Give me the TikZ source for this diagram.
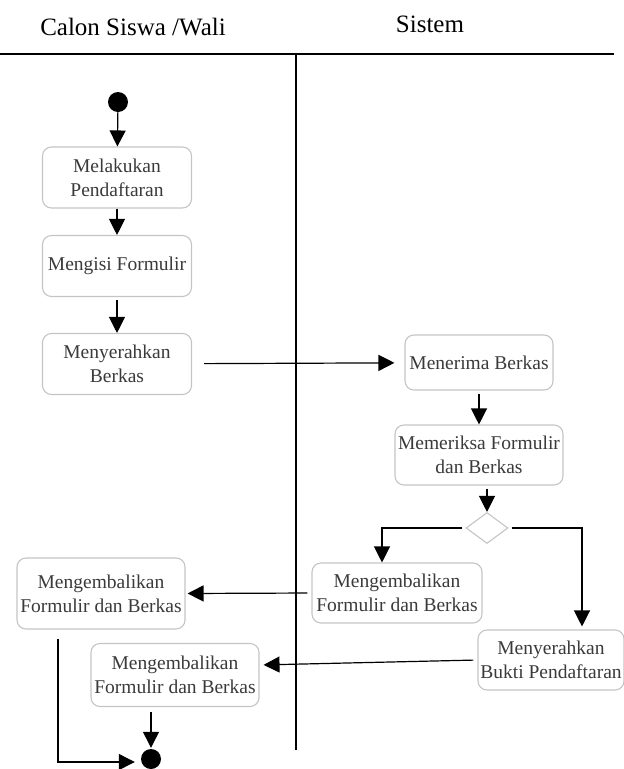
\documentclass[tikz,border=0pt]{standalone}
\usepackage{fontspec}
\setmainfont{Liberation Serif}
\usetikzlibrary{positioning,arrows.meta,shapes.geometric,calc}
\definecolor{ActLine}{HTML}{C4C4C4}
\definecolor{ActText}{HTML}{3A3A3A}

\begin{document}
\begin{tikzpicture}[x=1pt,y=-1pt,
  >={Triangle[length=16pt,width=16pt]},
  lane/.style={font=\fontsize{25}{30}\selectfont,inner sep=0pt},
  act/.style={draw=ActLine,line width=1.1pt,rounded corners=9pt,align=center,
              text=ActText,font=\fontsize{19.5}{24}\selectfont,inner sep=1pt,
              minimum width=149pt,minimum height=61pt},
  dot/.style={circle,fill=black,minimum size=20pt,inner sep=0pt},
  dec/.style={diamond,draw=ActLine,line width=1.1pt,aspect=1.35,
              minimum width=42pt,minimum height=31pt,inner sep=0pt},
  k/.style={->,line width=1.2pt,black},
]
\useasboundingbox (0,0) rectangle (624,769);

% swimlanes
\node[lane] (laneA) at (133,27) {Calon Siswa /Wali};
\node[lane] (laneB) at (430,24) {Sistem};
\draw[line width=1.2pt] (0,54) -- (614,54);
\draw[line width=1.2pt] (296,54) -- (296,750);

% Calon Siswa / Wali
\node[dot] (start) at (118,102) {};
\node[act] (daftar) at (117,177.5) {Melakukan\\Pendaftaran};
\node[act] (isi)    at (117,266)   {Mengisi Formulir};
\node[act] (serah)  at (117,364)   {Menyerahkan\\Berkas};
\node[act,minimum width=168pt,minimum height=71pt] (kembaliC) at (101,593.5)
  {Mengembalikan\\Formulir dan Berkas};
\node[act,minimum width=168pt,minimum height=63pt] (kembaliL) at (175,675)
  {Mengembalikan\\Formulir dan Berkas};
\node[dot] (stop) at (151,759) {};

% Sistem
\node[act,minimum width=148pt,minimum height=55pt] (terima) at (479,362.5) {Menerima Berkas};
\node[act,minimum width=168pt,minimum height=60pt] (periksa) at (479,455)
  {Memeriksa Formulir\\dan Berkas};
\node[dec] (cek) at (487,528) {};
\node[act,minimum width=170pt,minimum height=60pt] (kembaliS) at (397,593)
  {Mengembalikan\\Formulir dan Berkas};
\node[act,minimum width=146pt,minimum height=60pt] (bukti) at (551,660)
  {Menyerahkan\\Bukti Pendaftaran};

% flows
\draw[k] (start) -- (daftar);
\draw[k] (daftar) -- (isi);
\draw[k,shorten <=3pt] (isi) -- (serah);
\draw[k,shorten <=12pt,shorten >=10pt] (serah) -- (terima);
\draw[k,shorten <=3pt] (terima) -- (periksa);
\draw[k,shorten <=3pt] (cek.north |- periksa.south) -- (cek.north);
\draw[k,shorten <=3pt] (cek.west) -| ([xshift=-15pt]kembaliS.north);
\draw[k,shorten <=3pt,shorten >=3pt] (cek.east) -| ([xshift=31pt]bukti.north);
\draw[k,shorten <=4pt,shorten >=2pt] (kembaliS.west) -- (kembaliC.east);
\draw[k,shorten <=4pt,shorten >=4pt] (bukti.west) -- ([yshift=10pt]kembaliL.east);
\draw[k,shorten <=5pt,shorten >=1pt] (stop.north |- kembaliL.south) -- (stop.north);
\draw[k,shorten <=9pt,shorten >=6pt] ([xshift=-43pt]kembaliC.south) |- ([yshift=-3pt]stop.west);
\end{tikzpicture}
\end{document}
